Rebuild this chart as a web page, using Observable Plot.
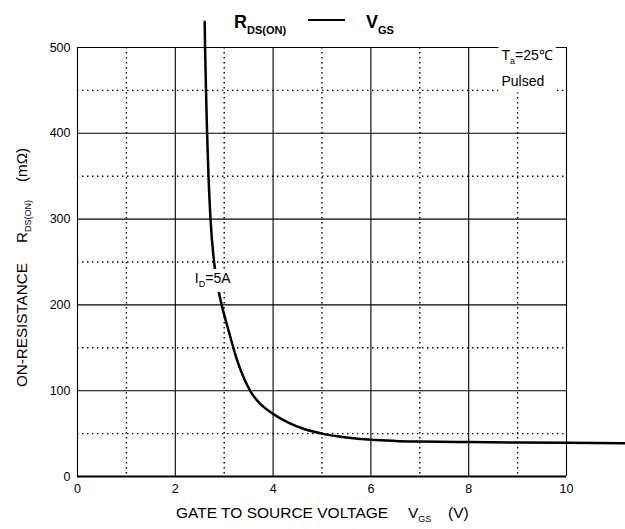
<!DOCTYPE html>
<html><head><meta charset="utf-8">
<script src="https://cdn.jsdelivr.net/npm/d3@7"></script>
<script src="https://cdn.jsdelivr.net/npm/@observablehq/plot@0.6"></script>
<style>body{margin:0;background:#fff} svg{display:block}</style>
</head><body><div id="chart"></div>
<script>
// Curve: R_DS(ON) vs V_GS at I_D = 5A
const vgs = [2.601, 2.609, 2.628, 2.650, 2.679, 2.720, 2.793, 2.857, 2.949, 3.10, 3.25, 3.40, 3.55, 3.75, 4.00, 4.30, 4.65, 5.00, 5.50, 6.00, 6.50, 7.00, 8.00, 9.00, 10.00, 11.20];
const rds = [530, 500, 450, 400, 350, 300, 250, 225, 200, 168, 138, 115, 98, 84, 73, 63, 55, 50, 45.5, 42.8, 41.5, 40.8, 40.1, 39.6, 39.2, 38.8];
const xTicks = [0, 2, 4, 6, 8, 10];
const yTicks = [0, 100, 200, 300, 400, 500];
const xMajor = [0, 2, 4, 6, 8, 10];
const yMajor = [100, 200, 300, 400, 500];
const xMinor = [1, 3, 5, 7, 9];
const yMinor = [50, 150, 250, 350, 450];

const data = vgs.map((v, i) => ({vgs: v, rds: rds[i]}));
const font = "'Liberation Sans', Arial, Helvetica, sans-serif";

const plot = Plot.plot({
  width: 625, height: 529,
  marginLeft: 77, marginRight: 59, marginTop: 47, marginBottom: 53,
  style: {fontFamily: font, fontSize: "12.5px", color: "#000", background: "#fff", overflow: "visible"},
  x: {domain: [0, 10], ticks: xTicks, tickSize: 0, tickPadding: 8, label: null},
  y: {domain: [0, 500], ticks: yTicks, tickSize: 0, tickPadding: 7, label: null},
  marks: [
    Plot.ruleX(xMinor, {stroke: "#000", strokeWidth: 1.4, strokeDasharray: "1.4,3.6"}),
    Plot.ruleY(yMinor, {stroke: "#000", strokeWidth: 1.4, strokeDasharray: "1.4,3.6"}),
    Plot.ruleX(xMajor, {stroke: "#000", strokeWidth: 1.1}),
    Plot.ruleY(yMajor, {stroke: "#000", strokeWidth: 1.1}),
    Plot.ruleY([0], {stroke: "#000", strokeWidth: 1.8}),
    Plot.line(data, {x: "vgs", y: "rds", curve: "monotone-x", stroke: "#000", strokeWidth: 2.5})
  ]
});
document.getElementById("chart").appendChild(plot);

const sx = plot.scale("x"), sy = plot.scale("y");
const svg = d3.select(plot);

function txt(parent) {
  return parent.append("text").attr("font-family", font).attr("fill", "#000").attr("text-anchor", "start");
}
// Annotation with white background
function boxed(g) {
  const bb = g.node().getBBox();
  g.insert("rect", ":first-child")
    .attr("x", bb.x - 3).attr("y", bb.y - 1)
    .attr("width", bb.width + 6).attr("height", bb.height + 4)
    .attr("fill", "#fff");
}

// I_D = 5A
const gid = svg.append("g");
const tid = txt(gid).attr("font-size", 14).attr("x", sx.apply(2.41)).attr("y", sy.apply(225));
tid.append("tspan").text("I");
tid.append("tspan").attr("font-size", 9).attr("dy", 4).text("D");
tid.append("tspan").attr("dy", -4).text("=5A");
boxed(gid);

// Ta = 25℃, Pulsed
const gta = svg.append("g");
const tta = txt(gta).attr("font-size", 14).attr("x", sx.apply(8.68)).attr("y", sy.apply(485));
tta.append("tspan").text("T");
tta.append("tspan").attr("font-size", 9).attr("dy", 4).text("a");
tta.append("tspan").attr("dy", -4).text("=25℃");
txt(gta).attr("font-size", 14).attr("x", sx.apply(8.68)).attr("y", sy.apply(454)).text("Pulsed");
boxed(gta);

// Title
const tt = txt(svg).attr("font-weight", "bold");
tt.append("tspan").attr("x", 234).attr("y", 28).attr("font-size", 18).text("R");
tt.append("tspan").attr("font-size", 11).attr("dy", 6).text("DS(ON)");
svg.append("line").attr("x1", 308).attr("x2", 345).attr("y1", 20).attr("y2", 20)
  .attr("stroke", "#000").attr("stroke-width", 2);
const tv = txt(svg).attr("font-weight", "bold");
tv.append("tspan").attr("x", 366).attr("y", 28).attr("font-size", 18).text("V");
tv.append("tspan").attr("font-size", 11).attr("dy", 6).text("GS");

// X axis label
const xl = txt(svg).attr("font-size", 15.5).attr("x", 176).attr("y", 518);
xl.append("tspan").text("GATE TO SOURCE VOLTAGE");
xl.append("tspan").attr("x", 408).text("V");
xl.append("tspan").attr("font-size", 9).attr("dy", 4).text("GS");
xl.append("tspan").attr("x", 448).attr("dy", -4).text("(V)");

// Y axis label
const yl = txt(svg).attr("font-size", 15.2).attr("transform", "translate(27,387) rotate(-90)");
yl.append("tspan").attr("x", 0).attr("y", 0).text("ON-RESISTANCE");
yl.append("tspan").attr("x", 144).text("R");
yl.append("tspan").attr("font-size", 9).attr("dy", 4).text("DS(ON)");
yl.append("tspan").attr("x", 205).attr("dy", -4).text("(mΩ)");
</script>
</body></html>
